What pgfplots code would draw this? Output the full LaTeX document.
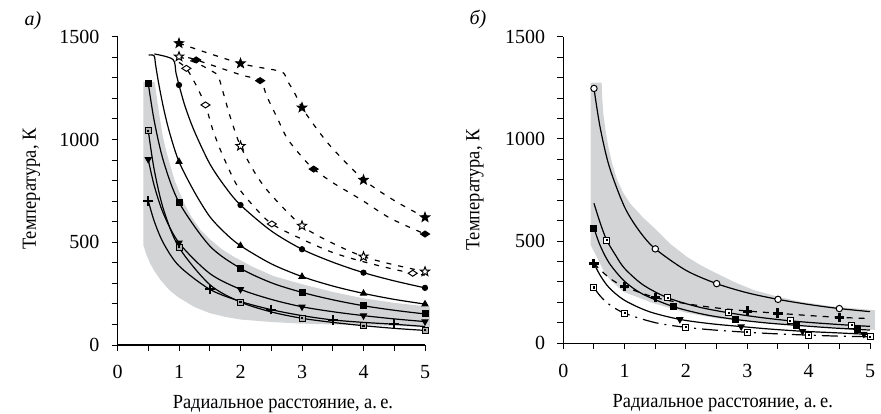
\documentclass[border=0pt]{standalone}
\usepackage{fontspec}
\setmainfont{Liberation Serif}
\newfontfamily\lblfont[FakeStretch=0.92]{Liberation Serif}
\usepackage{pgfplots}
\pgfplotsset{compat=1.18}
\usetikzlibrary{plotmarks}

\definecolor{band}{RGB}{211,212,214}

\pgfdeclareplotmark{fivestar}{%
  \pgfpathmoveto{\pgfpointpolar{90}{\pgfplotmarksize}}%
  \pgfpathlineto{\pgfpointpolar{126}{0.42\pgfplotmarksize}}%
  \pgfpathlineto{\pgfpointpolar{162}{\pgfplotmarksize}}%
  \pgfpathlineto{\pgfpointpolar{198}{0.42\pgfplotmarksize}}%
  \pgfpathlineto{\pgfpointpolar{234}{\pgfplotmarksize}}%
  \pgfpathlineto{\pgfpointpolar{270}{0.42\pgfplotmarksize}}%
  \pgfpathlineto{\pgfpointpolar{306}{\pgfplotmarksize}}%
  \pgfpathlineto{\pgfpointpolar{342}{0.42\pgfplotmarksize}}%
  \pgfpathlineto{\pgfpointpolar{18}{\pgfplotmarksize}}%
  \pgfpathlineto{\pgfpointpolar{54}{0.42\pgfplotmarksize}}%
  \pgfpathclose
  \pgfusepathqfillstroke}
\pgfdeclareplotmark{sqdot}{%
  \pgfpathrectangle{\pgfqpoint{-\pgfplotmarksize}{-\pgfplotmarksize}}{\pgfqpoint{2\pgfplotmarksize}{2\pgfplotmarksize}}%
  \pgfusepathqfillstroke
  \begin{pgfscope}%
  \pgfpathrectangle{\pgfqpoint{-0.35\pgfplotmarksize}{-0.35\pgfplotmarksize}}{\pgfqpoint{0.7\pgfplotmarksize}{0.7\pgfplotmarksize}}%
  \pgfsetfillcolor{black}\pgfusepathqfill
  \end{pgfscope}}

\pgfplotsset{
  panel/.style={
    scale only axis, axis lines*=left,
    xmin=0, xmax=5, ymin=0, ymax=1500,
    xtick={0,1,2,3,4,5}, ytick={0,500,1000,1500},
    minor x tick num=1, minor y tick num=4,
    tick align=outside, major tick length=3pt, minor tick length=3pt,
    tick style={black, line width=0.5pt},
    axis line style={line width=0.6pt},
    clip=false,
    /pgf/number format/assume math mode=true,
    /pgf/number format/1000 sep={},
    ticklabel style={font=\fontsize{10}{12}\selectfont},
    xticklabel style={yshift=-3.8pt},
    yticklabel style={xshift=-2.5pt},
    label style={font=\lblfont\fontsize{10}{12}\selectfont},
    xlabel={Радиальное расстояние, а.\,е.},
    ylabel={Температура, К},
  },
  curve/.style={smooth, no marks, black, line width=0.6pt},
  dcurve/.style={smooth, no marks, black, line width=0.6pt, dash pattern=on 2.5pt off 3.5pt},
  mk/.style={only marks, black, mark size=#1, line width=0.5pt},
  mk/.default=1.5pt,
}

\begin{document}
\begin{tikzpicture}
\path[use as bounding box] (0,0) rectangle (440.5pt,-206.5pt);

% ---------------- panel a ----------------
\begin{axis}[panel, at={(58.75pt,-172.5pt)}, anchor=south west,
  width=153.75pt, height=154.15pt,
  xlabel style={at={(axis description cs:0.538,-0.19)}, anchor=center},
  ylabel style={at={(axis description cs:-0.28,0.506)}, anchor=center}]

\addplot[fill=band, draw=none] coordinates {
 (0.42,1280) (0.60,1280) (0.62,1245) (0.65,1180) (0.69,1100) (0.74,1010)
 (0.80,935) (0.86,872) (0.93,800) (1.0,748) (1.1,680) (1.2,625) (1.35,560)
 (1.5,515) (1.7,465) (1.9,428) (2.2,380) (2.54,335) (3.0,296) (3.5,258)
 (4.0,227) (4.5,205) (5.08,186)
 (5.08,88) (4.5,92) (4.0,97) (3.5,100) (3.0,104) (2.5,112) (2.0,124)
 (1.75,137) (1.5,155) (1.25,185) (1.0,230) (0.85,265) (0.70,316) (0.6,360)
 (0.53,397) (0.47,440) (0.42,486)} -- cycle;

% filled square
\addplot[curve] coordinates {(0.5,1273) (0.6,1086) (0.75,892) (1.0,694) (1.5,482) (2.0,373) (2.5,303) (3.0,256) (3.5,220) (4.0,191) (4.5,169) (5.0,151)};
\addplot[mk, mark=square*] coordinates {(0.5,1273) (1,694) (2,373) (3,256) (4,191) (5,151)};
% dotted square
\addplot[curve] coordinates {(0.5,1043) (0.6,848) (0.75,658) (1.0,475) (1.5,294) (2.0,209) (2.5,161) (3.0,130) (3.5,110) (4.0,94) (4.5,81) (5.0,71)};
\addplot[mk, mark=sqdot, mark options={fill=gray!60}] coordinates {(0.5,1043) (1,475) (2,209) (3,130) (4,94) (5,71)};
% down triangle
\addplot[curve] coordinates {(0.5,903) (0.6,772) (0.75,637) (1.0,497) (1.5,348) (2.0,271) (2.5,222) (3.0,186) (3.5,162) (4.0,143) (4.5,127) (5.0,114)};
\addplot[mk, mark=triangle*, mark size=1.7pt, mark options={rotate=180}] coordinates {(0.5,903) (1,497) (2,271) (3,186) (4,143) (5,114)};
% cross
\addplot[curve] coordinates {(0.5,702) (0.6,600) (0.75,494) (1.0,385) (1.5,271) (2.0,212) (2.5,172) (3.0,143) (3.5,122) (4.0,110) (4.5,101) (5.0,90)};
\addplot[mk, mark=+, mark size=2.4pt, line width=0.9pt] coordinates {(0.5,702) (1.5,271) (2.5,172) (3.5,122) (4.5,101)};
% up triangle
\addplot[curve] coordinates {(0.505,1411) (0.595,1407) (0.62,1362) (0.67,1272) (0.75,1151) (0.85,1030) (1.0,892) (1.25,745) (1.5,625) (1.75,545) (2.0,483) (2.5,395) (3.0,333) (3.5,287) (4.0,251) (4.5,222) (5.0,199)};
\addplot[mk, mark=triangle*, mark size=1.7pt] coordinates {(1,892) (2,483) (3,333) (4,251) (5,199)};
% filled circle
\addplot[curve] coordinates {(0.60,1416) (0.90,1390) (0.95,1325) (1.0,1265) (1.1,1160) (1.25,1040) (1.5,882) (1.75,770) (2.0,681) (2.5,555) (3.0,466) (3.5,403) (4.0,352) (4.5,312) (5.0,278)};
\addplot[mk, mark=*, mark size=1.3pt] coordinates {(1,1265) (2,681) (3,466) (4,352) (5,278)};

% dashed: filled star
\addplot[dcurve] coordinates {(1.0,1468) (2.0,1370) (2.65,1331) (2.75,1290) (2.87,1232) (3.0,1155) (3.22,1060) (3.5,955) (4.0,805) (4.5,703) (5.0,621)};
\addplot[mk, mark=fivestar, mark size=2.4pt, fill=black] coordinates {(1,1468) (2,1370) (3,1155) (4,803) (5,621)};
% dashed: filled diamond
\addplot[dcurve] coordinates {(1.15,1398) (1.28,1387) (2.0,1315) (2.32,1286) (2.43,1208) (2.60,1103) (2.76,1005) (3.0,915) (3.19,856) (3.5,790) (3.79,738) (4.0,700) (4.44,616) (5.0,540)};
\addplot[mk, mark=diamond*, mark size=2pt, mark options={xscale=1.5, yscale=0.75, fill=black}] coordinates {(1.28,1387) (2.32,1286) (3.19,856) (5.0,540)};
% dashed: open star
\addplot[dcurve] coordinates {(1.0,1403) (1.3,1370) (1.55,1330) (1.64,1306) (1.73,1216) (1.84,1103) (2.0,968) (2.25,830) (2.5,730) (3.0,580) (3.5,495) (4.0,430) (4.5,390) (5.0,357)};
\addplot[mk, mark=fivestar, mark size=2.4pt, fill=white] coordinates {(1,1403) (2,968) (3,580) (4,430) (5,357)};
% dashed: open diamond
\addplot[dcurve] coordinates {(1.0,1375) (1.12,1346) (1.25,1280) (1.35,1220) (1.43,1168) (1.51,1087) (1.56,1038) (1.7,930) (1.94,778) (2.2,680) (2.51,589) (3.0,515) (3.5,450) (4.0,405) (4.5,368) (4.8,349) (5.0,340)};
\addplot[mk, mark=diamond*, mark size=2pt, mark options={xscale=1.5, yscale=0.75, fill=white}] coordinates {(1.12,1346) (1.43,1168) (2.51,589) (4.8,349)};

\node[font=\fontsize{10}{12}\selectfont\itshape] at (axis description cs:-0.275,1.051) {а)};
\end{axis}

% ---------------- panel b ----------------
\begin{axis}[panel, at={(281.65pt,-171.65pt)}, anchor=south west,
  width=153.35pt, height=153.3pt,
  xlabel style={at={(axis description cs:0.52,-0.195)}, anchor=center},
  ylabel style={at={(axis description cs:-0.288,0.5)}, anchor=center}]

\addplot[fill=band, draw=none] coordinates {
 (0.446,1275) (0.625,1275) (0.635,1200) (0.652,1125) (0.69,1040) (0.734,962)
 (0.80,875) (0.88,799) (0.98,735) (1.087,685) (1.3,615) (1.52,554) (1.75,485)
 (2.01,424) (2.25,380) (2.5,342) (2.8,298) (3.1,261) (3.5,228) (3.86,204)
 (4.4,180) (5.08,162)
 (5.08,66) (4.5,76) (4.0,86) (3.5,96) (3.0,108) (2.5,122) (2.0,150)
 (1.47,196) (0.98,252) (0.75,315) (0.65,358) (0.55,420) (0.446,481)} -- cycle;

% open circle
\addplot[curve] coordinates {(0.5,1247) (0.6,1057) (0.75,864) (1.0,666) (1.25,545) (1.5,462) (2.0,357) (2.5,292) (3.0,247) (3.5,215) (4.0,190) (4.5,170) (5.0,155)};
\addplot[mk, mark=*, mark size=1.6pt, fill=white] coordinates {(0.5,1247) (1.5,462) (2.5,292) (3.5,215) (4.5,170)};
% dotted square
\addplot[curve] coordinates {(0.5,685) (0.6,590) (0.707,505) (0.85,432) (1.0,366) (1.3,286) (1.7,223) (2.2,178) (2.7,149) (3.2,127) (3.7,110) (4.2,98) (4.7,88) (5.0,83)};
\addplot[mk, mark=sqdot, mark options={fill=white}] coordinates {(0.707,505) (1.7,223) (2.7,149) (3.7,110) (4.7,88)};
% filled square
\addplot[curve] coordinates {(0.5,563) (0.6,479) (0.75,392) (1.0,303) (1.3,240) (1.79,180) (2.3,141) (2.8,117) (3.3,100) (3.8,88) (4.3,77) (4.8,68) (5.0,65)};
\addplot[mk, mark=square*] coordinates {(0.5,563) (1.79,180) (2.8,117) (3.8,88) (4.8,68)};
% down triangle (solid)
\addplot[curve] coordinates {(0.5,391) (0.6,333) (0.75,271) (1.0,210) (1.4,155) (1.9,117) (2.4,96) (2.9,82) (3.4,69) (3.9,59) (4.4,52) (4.9,45) (5.0,44)};
\addplot[mk, mark=triangle*, mark size=1.7pt, mark options={rotate=180}] coordinates {(1.9,117) (2.9,82) (3.9,59) (4.9,45)};
% bold cross (dashed)
\addplot[curve, dash pattern=on 3pt off 3pt] coordinates {(0.5,391) (0.75,320) (1.0,277) (1.5,224) (2.0,194) (2.5,173) (3.0,158) (3.5,147) (4.0,136) (4.5,127) (5.0,121)};
\addplot[mk, mark=+, mark size=2.4pt, line width=1.5pt] coordinates {(0.5,391) (1.0,277) (1.5,224) (3.0,158) (3.5,147) (4.5,127)};
% open square (dash-dot)
\addplot[curve, dash pattern=on 8pt off 3pt on 1pt off 3pt] coordinates {(0.5,273) (0.6,232) (0.75,190) (1.0,147) (1.5,101) (2.0,78) (2.5,64) (3.0,54) (3.5,46) (4.0,40) (4.5,35) (5.0,32)};
\addplot[mk, mark=sqdot, mark options={fill=white}] coordinates {(0.5,273) (1,147) (2,78) (3,54) (4,40) (5,32)};

\node[font=\fontsize{10}{12}\selectfont\itshape] at (axis description cs:-0.278,1.057) {б)};
\end{axis}
\end{tikzpicture}
\end{document}
